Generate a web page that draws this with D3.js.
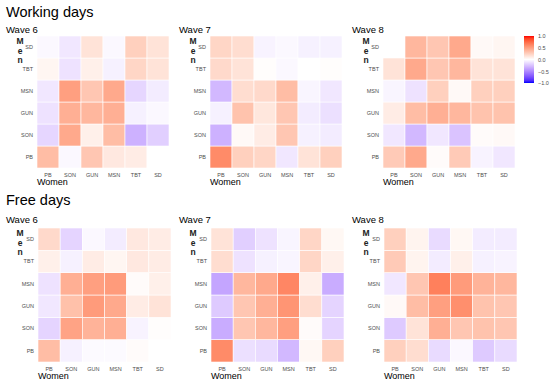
<!DOCTYPE html>
<html><head><meta charset="utf-8">
<script src="https://cdn.jsdelivr.net/npm/d3@7"></script>
<style>body{margin:0;background:#fff}svg{display:block;font-family:"Liberation Sans",Arial,sans-serif}</style>
</head><body><svg id="c" width="550" height="386"></svg>
<script>
const women = ["PB","SON","GUN","MSN","TBT","SD"];
const men = ["PB","SON","GUN","MSN","TBT","SD"];
const sectionTitles = ["Working days","Free days"];
const waveTitles = ["Wave 6","Wave 7","Wave 8"];
const legendTicks = [1.0,0.5,0.0,-0.5,-1.0];
// rows = men (PB..SD), columns = women (PB..SD)
const workW6 = [
 [0.35,-0.03,0.30,0.12,0.10,0.00],
 [-0.17,0.45,0.08,0.35,-0.33,-0.20],
 [-0.12,0.42,0.38,0.42,-0.06,-0.03],
 [-0.10,0.50,0.30,0.45,-0.17,-0.08],
 [0.05,-0.12,0.08,-0.06,0.22,0.15],
 [-0.03,-0.10,0.15,-0.03,0.25,0.15]];
const workW7 = [
 [0.60,0.25,0.22,-0.10,0.15,0.25],
 [-0.33,0.03,0.10,0.30,-0.06,-0.08],
 [-0.06,0.32,0.13,0.30,-0.08,-0.13],
 [-0.30,0.18,0.20,0.35,-0.04,-0.10],
 [0.20,0.15,0.01,-0.03,0.00,0.01],
 [0.22,0.18,-0.05,-0.03,-0.06,-0.06]];
const workW8 = [
 [0.28,0.45,0.02,0.28,-0.05,-0.10],
 [-0.10,-0.30,-0.10,-0.25,0.02,0.03],
 [0.10,0.35,0.42,0.38,0.32,0.32],
 [-0.04,-0.12,0.25,0.03,0.25,0.25],
 [0.15,0.45,0.30,0.38,0.15,0.15],
 [null,0.38,0.30,0.45,0.03,0.05]];
const freeW6 = [
 [0.35,-0.06,-0.02,-0.02,0.02,0.00],
 [-0.18,0.48,0.40,0.42,-0.05,0.01],
 [-0.10,0.33,0.52,0.45,0.10,0.15],
 [-0.12,0.42,0.50,0.52,0.02,0.08],
 [0.08,-0.06,0.10,0.05,0.12,0.10],
 [0.20,-0.18,-0.03,-0.08,0.12,0.10]];
const freeW7 = [
 [0.60,-0.13,-0.15,-0.30,0.04,0.25],
 [-0.35,0.30,0.38,0.50,0.02,-0.18],
 [-0.22,0.30,0.42,0.55,0.18,-0.18],
 [-0.38,0.38,0.45,0.62,0.08,-0.35],
 [0.18,-0.12,-0.06,-0.04,0.22,0.08],
 [0.15,-0.20,-0.12,-0.04,0.22,0.04]];
const freeW8 = [
 [0.25,0.18,-0.15,-0.03,-0.22,-0.15],
 [-0.22,0.15,0.42,0.30,0.32,0.30],
 [0.03,0.35,0.50,0.58,0.32,0.30],
 [-0.10,0.30,0.65,0.52,0.40,0.38],
 [0.28,0.06,-0.08,0.08,-0.06,-0.05],
 [0.25,0.06,-0.15,0.04,-0.08,-0.08]];

const sections = [
  {title: sectionTitles[0], titleY: 17, waveY: 33, gridY: 36, gridH: 132, gridDX: 31, gridW: 132, data:[workW6,workW7,workW8]},
  {title: sectionTitles[1], titleY: 205, waveY: 223, gridY: 228, gridH: 134, gridDX: 32, gridW: 133, data:[freeW6,freeW7,freeW8]}
];
const panelX = [6,179,352];

const color = d3.scaleLinear().domain([-1,0,1]).range(["blue","white","red"]).interpolate(d3.interpolateLab);
const svg = d3.select("#c");

sections.forEach(sec=>{
  svg.append("text").attr("x",6).attr("y",sec.titleY).attr("font-size",14.5).attr("fill","#000").text(sec.title);
  sec.data.forEach((mat,pi)=>{
    const px = panelX[pi];
    const g = svg.append("g");
    g.append("text").attr("x",px).attr("y",sec.waveY).attr("font-size",9.5).text(waveTitles[pi]);
    const x = d3.scaleBand().domain(women).range([px+sec.gridDX, px+sec.gridDX+sec.gridW]);
    const y = d3.scaleBand().domain(men.slice().reverse()).range([sec.gridY, sec.gridY+sec.gridH]);
    const cells = [];
    mat.forEach((row,ri)=>row.forEach((v,ci)=>{ if(v!==null) cells.push({m:men[ri], w:women[ci], v}); }));
    g.selectAll("rect").data(cells).join("rect")
      .attr("x",d=>x(d.w)).attr("y",d=>y(d.m))
      .attr("width",x.bandwidth()).attr("height",y.bandwidth())
      .attr("fill",d=>color(d.v)).attr("stroke","#fff").attr("stroke-width",0.6);
    const xa = g.append("g").attr("transform",`translate(0,${sec.gridY+sec.gridH+2})`)
      .call(d3.axisBottom(x).tickSize(0).tickPadding(3));
    xa.select(".domain").remove();
    xa.selectAll("text").attr("font-size",5.5).attr("fill","#4d4d4d").attr("font-family","Liberation Sans, Arial, sans-serif");
    const ya = g.append("g").attr("transform",`translate(${px+sec.gridDX-2},0)`)
      .call(d3.axisLeft(y).tickSize(0).tickPadding(2));
    ya.select(".domain").remove();
    ya.selectAll("text").attr("font-size",5.5).attr("fill","#4d4d4d").attr("font-family","Liberation Sans, Arial, sans-serif");
    // Men label stacked
    ["M","e","n"].forEach((ch,i)=>{
      g.append("text").attr("x",px+14).attr("y",sec.gridY+8+i*9.5).attr("text-anchor","middle")
        .attr("font-size",8.5).attr("font-weight","bold").attr("fill","#222").text(ch);
    });
    g.append("text").attr("x",px+sec.gridDX).attr("y",sec.gridY+sec.gridH+16.5)
      .attr("font-size",9).attr("fill","#000").text("Women");
  });
});

// legend
const defs = svg.append("defs");
const lg = defs.append("linearGradient").attr("id","lg").attr("x1",0).attr("y1",1).attr("x2",0).attr("y2",0);
d3.range(0,1.0001,0.05).forEach(t=>{
  lg.append("stop").attr("offset",t).attr("stop-color",color(-1+2*t));
});
const ly = d3.scaleLinear().domain([-1,1]).range([83,36]);
svg.append("rect").attr("x",524).attr("y",36).attr("width",10).attr("height",47).attr("fill","url(#lg)");
const la = svg.append("g").attr("transform","translate(534,0)")
  .call(d3.axisRight(ly).tickValues(legendTicks).tickFormat(d3.format(".1f")).tickSize(2).tickPadding(2));
la.select(".domain").remove();
la.selectAll("line").attr("stroke","#fff");
la.selectAll("text").attr("font-size",5.5).attr("fill","#4d4d4d").attr("font-family","Liberation Sans, Arial, sans-serif");
</script></body></html>
